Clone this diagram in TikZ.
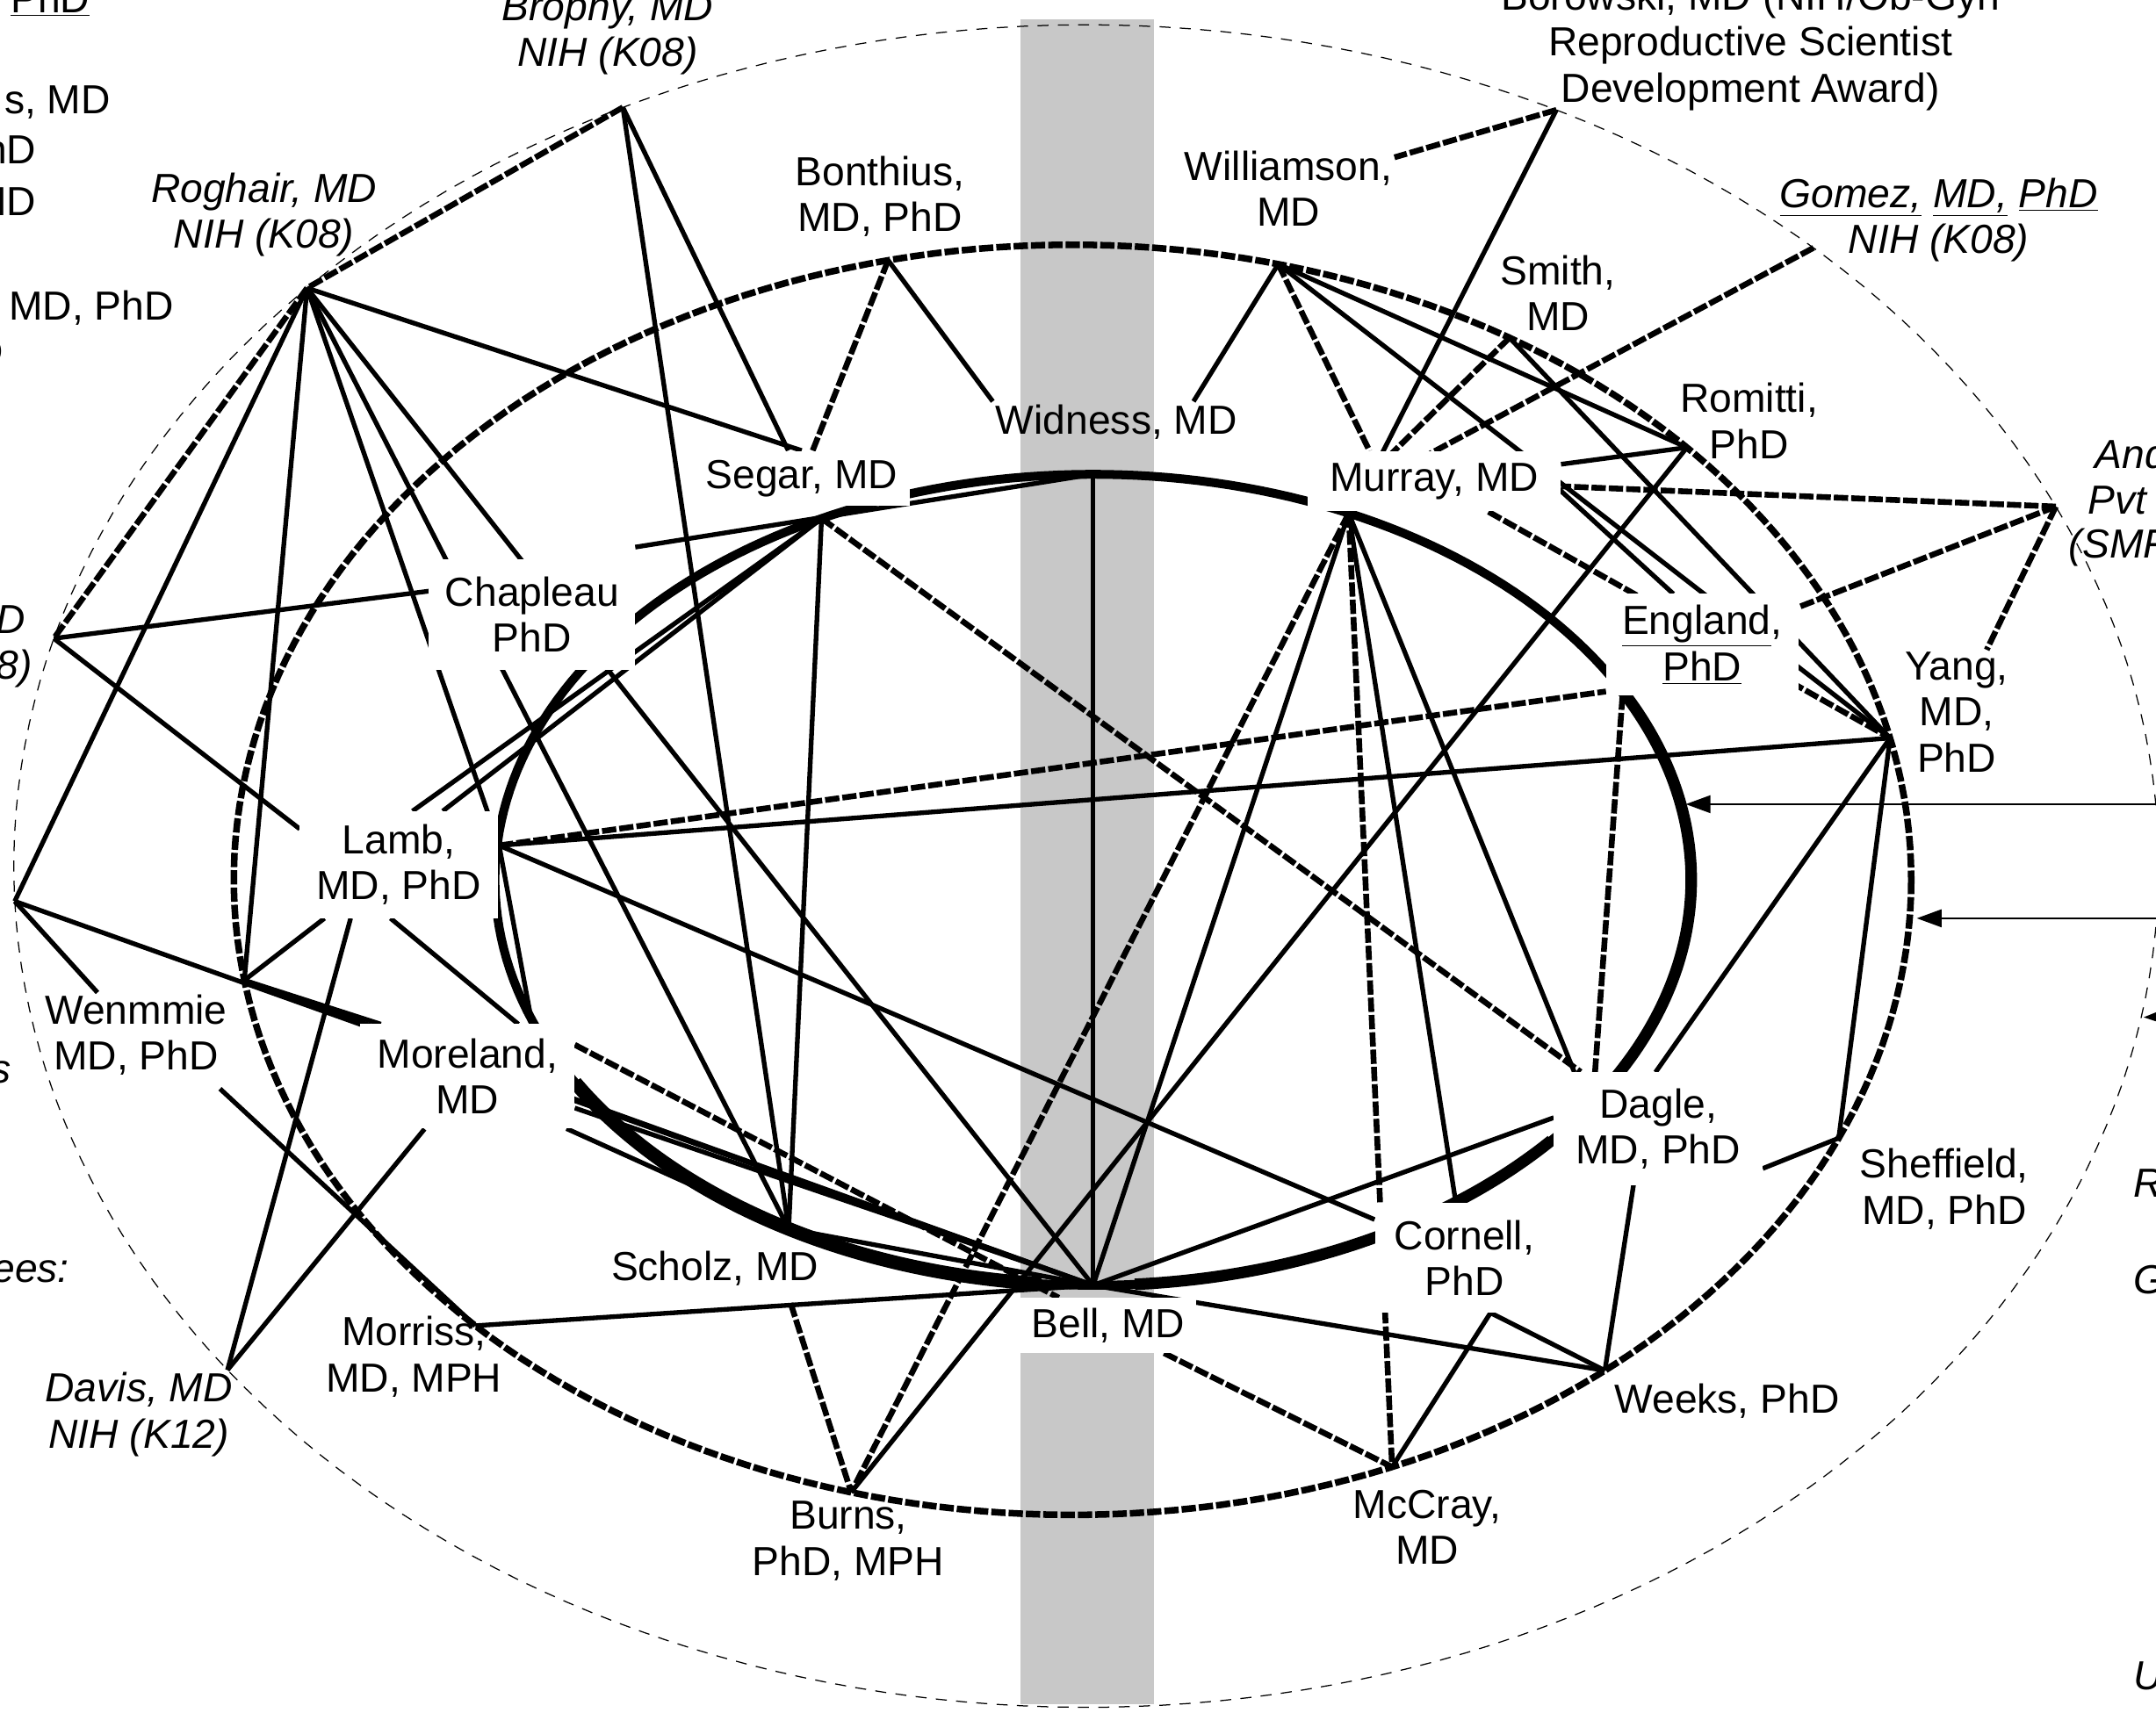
\documentclass[tikz,border=0pt]{standalone}
\usepackage{fontspec}
\setmainfont{Liberation Sans}
\usetikzlibrary{calc,arrows.meta}
\pgfdeclarelayer{back}
\pgfdeclarelayer{mid}
\pgfsetlayers{back,mid,main}
\definecolor{band}{RGB}{200,200,200}
\newcommand{\labfont}{\fontsize{21}{23.8}\selectfont}
\begin{document}
\begin{tikzpicture}[x=0.25mm,y=-0.25mm,
  lab/.style={font=\labfont, align=center, inner sep=1pt},
  itl/.style={font=\labfont\itshape, align=center, inner sep=1pt},
  box/.style={font=\labfont, align=center, fill=white, inner sep=0pt},
  sl/.style={line width=0.85mm},
  dl/.style={line width=1.05mm, dash pattern=on 2.6mm off 0.55mm},
  mdl/.style={line width=1.2mm, dash pattern=on 2.6mm off 0.55mm},
  thin/.style={line width=0.2mm, dash pattern=on 2mm off 1.7mm},
  heavy/.style={line width=1.6mm},
  arr/.style={line width=0.35mm, -{Triangle[length=4.5mm,width=3.2mm]}}]
\useasboundingbox (0,0) rectangle (1568,1251);

% ---------- vertices on the ellipses ----------
% outer ellipse: centre (790,630), radii 780 / 612
\coordinate (Br) at ($(790,630)+(244.4:780 and 612)$);
\coordinate (Ro) at ($(790,630)+(223.4:780 and 612)$);
\coordinate (L1) at ($(790,630)+(195.7:780 and 612)$);
\coordinate (L2) at ($(790,630)+(177.6:780 and 612)$);
\coordinate (Da) at ($(790,630)+(143.2:780 and 612)$);
\coordinate (Bo) at ($(790,630)+(296.0:780 and 612)$);
\coordinate (Go) at ($(790,630)+(312.7:780 and 612)$);
\coordinate (An) at ($(790,630)+(334.7:780 and 612)$);
% middle ellipse: centre (780,640), radii 610 / 462
\coordinate (Bt) at ($(780,640)+(257.3:610 and 462)$);
\coordinate (Wi) at ($(780,640)+(284.2:610 and 462)$);
\coordinate (Sm) at ($(780,640)+(301.4:610 and 462)$);
\coordinate (Rm) at ($(780,640)+(317.1:610 and 462)$);
\coordinate (Ya) at ($(780,640)+(347.1:610 and 462)$);
\coordinate (Sh) at ($(780,640)+(24.0:610 and 462)$);
\coordinate (We) at ($(780,640)+(50.6:610 and 462)$);
\coordinate (Mc) at ($(780,640)+(67.6:610 and 462)$);
\coordinate (Bu) at ($(780,640)+(105.3:610 and 462)$);
\coordinate (Ms) at ($(780,640)+(135.4:610 and 462)$);
\coordinate (Wn) at ($(780,640)+(170.9:610 and 462)$);
% inner ellipse: centre (795,640), radii 435 / 295
\coordinate (Wd) at ($(795,640)+(270:435 and 295)$);
\coordinate (Bl) at ($(795,640)+(90:435 and 295)$);
\coordinate (Sg) at ($(795,640)+(243:435 and 295)$);
\coordinate (Mu) at ($(795,640)+(295.3:435 and 295)$);
\coordinate (Sc) at ($(795,640)+(120.6:435 and 295)$);
\coordinate (Lm) at (363,615);

% ---------- attachment points on label borders ----------
\coordinate (muT)  at (1040,330);
\coordinate (muT2) at (1012,330);
\coordinate (muT3) at (996,328);
\coordinate (muT4) at (1005,330);
\coordinate (muR)  at (1134,356);
\coordinate (enT)  at (1217,432);
\coordinate (enBL) at (1168,503);
\coordinate (enB)  at (1180,506);
\coordinate (dgT)  at (1160,780);
\coordinate (dgTR) at (1204,780);
\coordinate (dgTL) at (1145,780);
\coordinate (dgL)  at (1130,813);
\coordinate (dgB)  at (1188,862);
\coordinate (dgR)  at (1282,850);
\coordinate (coB)  at (1084,955);
\coordinate (chL)  at (312,430);
\coordinate (chR)  at (462,398);
\coordinate (lmL)  at (218,603);
\coordinate (lmT1) at (300,590);
\coordinate (lmT2) at (322,590);
\coordinate (lmB1) at (284,668);
\coordinate (lmB2) at (255,668);
\coordinate (lmB3) at (236,668);
\coordinate (mrTR) at (387,745);
\coordinate (mrT)  at (377,745);
\coordinate (mrTL) at (277,745);
\coordinate (mrR1) at (418,760);
\coordinate (mrR2) at (418,806);
\coordinate (mrBR) at (412,821);
\coordinate (blTL) at (770,944);
\coordinate (scB)  at (575,948);
\coordinate (wnB)  at (160,792);
\coordinate (wdA)  at (722,292);
\coordinate (wdB)  at (868,292);
\coordinate (a1s) at (1620,585);
\coordinate (a1e) at (1226,585);
\coordinate (a2s) at (1620,668);
\coordinate (a2e) at (1394,668);
\coordinate (a3s) at (1620,738);
\coordinate (a3e) at (1559,740);

% ---------- labels ----------
\node[itl] (nBr) at (442,24) {Brophy, MD\\NIH (K08)};
\node[itl] (nRo) at (192,156) {Roghair, MD\\NIH (K08)};
\node[itl] (nDa) at (101,1029) {Davis, MD\\NIH (K12)};
\node[itl] (nGo) at (1410,160) {\underline{Gomez,} \underline{MD,} \underline{PhD}\\NIH (K08)};
\node[lab] (nBo) at (1273,33) {Borowski, MD (NIH/Ob-Gyn\\Reproductive Scientist\\Development Award)};
\node[lab] (nBt) at (640,143) {Bonthius,\\MD, PhD};
\node[lab] (nWi) at (937,137) {Williamson,\\MD};
\node[lab] (nSm) at (1133,213) {Smith,\\MD};
\node[lab] (nRm) at (1272,306) {Romitti,\\PhD};
\node[lab] (nYa) at (1423,518) {Yang,\\MD,\\PhD};
\node[lab] (nSh) at (1414,865) {Sheffield,\\MD, PhD};
\node[lab] (nWe) at (1256,1019) {Weeks, PhD};
\node[lab] (nMc) at (1038,1111) {McCray,\\MD};
\node[lab] (nBu) at (617,1121) {Burns,\\PhD, MPH};
\node[lab] (nMs) at (301,987) {Morriss,\\MD, MPH};
\node[lab] (nWn) at (99,753) {Wenmmie\\MD, PhD};
\node[lab] (nWd) at (812,307) {Widness, MD};
\node[lab] (nSc) at (520,923) {Scholz, MD};
\node[box, minimum width=39.5mm, minimum height=10mm] (nSg) at (583,348) {Segar, MD};
\node[box, minimum width=46mm, minimum height=11mm] (nMu) at (1043,350) {Murray, MD};
\node[box, minimum width=37.5mm, minimum height=20mm] (nCh) at (387,447) {Chapleau\\PhD};
\node[box, minimum width=36mm, minimum height=19.5mm] (nLm) at (290,629) {Lamb,\\MD, PhD};
\node[box, minimum width=39mm, minimum height=19mm] (nMr) at (340,783) {Moreland,\\MD};
\node[box, minimum width=35mm, minimum height=18.5mm] (nEn) at (1238,469) {\underline{England},\\\underline{PhD}};
\node[box, minimum width=38mm, minimum height=20.5mm] (nDg) at (1206,821) {Dagle,\\MD, PhD};
\node[box, minimum width=32.5mm, minimum height=20mm] (nCo) at (1065,915) {Cornell,\\PhD};
\node[box, minimum width=32mm, minimum height=10mm] (nBl) at (806,964) {Bell, MD};
% texts cut by the picture edges
\node[lab, anchor=base east] (cl1) at (67,9) {\underline{PhD}};
\node[lab, anchor=base east] (cl2) at (82,83) {s, MD};
\node[lab, anchor=base east] (cl3) at (28,119) {PhD};
\node[lab, anchor=base east] (cl4) at (28,157) {MD};
\node[lab, anchor=base east] (cl5) at (128,233) {MD, PhD};
\node[lab, anchor=base east] (cl6) at (4,266) {D};
\node[itl, anchor=base east] (cl7) at (20,461) {MD};
\node[itl, anchor=base east] (cl8) at (25,494) {(K08)};
\node[itl, anchor=base east] (cl9) at (10,788) {s};
\node[itl, anchor=base east] (cl10) at (52,933) {ees:};
\node[itl, anchor=base west] (cr1) at (1522,341) {And};
\node[itl, anchor=base west] (cr2) at (1517,374) {Pvt F};
\node[itl, anchor=base west] (cr3) at (1503,406) {(SMF};
\node[itl, anchor=base west] (cr4) at (1550,871) {R};
\node[itl, anchor=base west] (cr5) at (1550,941) {G};
\node[itl, anchor=base west] (cr6) at (1550,1229) {U};

% ---------- background: band and ellipses ----------
\begin{pgfonlayer}{back}
\fill[white] (0,0) rectangle (1568,1251);
\fill[band] (742,14) rectangle (839,1240);
\draw[thin] plot[domain=0:360, samples=240] ({790+780*cos(\x)},{630+612*sin(\x)}) -- cycle;
\draw[mdl] plot[domain=0:360, samples=240] ({780+610*cos(\x)},{640+462*sin(\x)}) -- cycle;
\draw[heavy] plot[domain=0:360, samples=240] ({795+435*cos(\x)},{640+295*sin(\x)}) -- cycle;
\draw[line width=2.5mm] plot[smooth, domain=95:150, samples=40] ({795+435*cos(\x)},{640+295*sin(\x)});
\draw[line width=2.1mm] plot[smooth, domain=-28:32, samples=40] ({795+435*cos(\x)},{640+295*sin(\x)});
\draw[line width=2.1mm] plot[smooth, domain=40:86, samples=40] ({795+435*cos(\x)},{640+295*sin(\x)});
\end{pgfonlayer}

% ---------- connectors ----------
\begin{pgfonlayer}{mid}
% dashed
\draw[dl] (Br) -- (Ro);
\draw[dl] (Ro) -- (L1);
\draw[dl] (Bo) -- (nWi);
\draw[dl] (Go) -- (muT);
\draw[dl] (Sm) -- (muT2);
\draw[dl] (Wi) -- (muT3);
\draw[dl] (Bt) -- (nSg);
\draw[dl] (An) -- (nMu);
\draw[dl] (An) -- (nEn);
\draw[dl] (An) -- (nYa);
\draw[dl] (nMu) -- (Ya);
\draw[dl] (Mu) -- (Bu);
\draw[dl] (Mu) -- (Mc);
\draw[dl] (Sg) -- (nDg);
\draw[dl] (Lm) -- (enBL);
\draw[dl] (mrR1) -- (blTL);
\draw[dl] (enB) -- (dgT);
\draw[dl] (nBl) -- (Mc);
\draw[dl] (scB) -- (Bu);
% solid
\draw[sl] (Br) -- (nSg);
\draw[sl] (Br) -- (Sc);
\draw[sl] (Ro) -- (nSg.north);
\draw[sl] (Ro) -- (L2);
\draw[sl] (Ro) -- (Wn);
\draw[sl] (Ro) -- (Lm);
\draw[sl] (Ro) -- (Sc);
\draw[sl] (Ro) -- (Bl);
\draw[sl] (L1) -- (chL);
\draw[sl] (L1) -- (lmL);
\draw[sl] (chR) -- (Wd);
\draw[sl] (Bt) -- (wdA);
\draw[sl] (Wi) -- (wdB);
\draw[sl] (Wi) -- (Rm);
\draw[sl] (Wi) -- (Ya);
\draw[sl] (Bo) -- (muT4);
\draw[sl] (Sm) -- (Ya);
\draw[sl] (nMu) -- (Rm);
\draw[sl] (muR) -- (enT);
\draw[sl] (Ya) -- (dgTR);
\draw[sl] (Ya) -- (Sh);
\draw[sl] (Lm) -- (Ya);
\draw[sl] (Lm) -- (nCo);
\draw[sl] (Lm) -- (mrTR);
\draw[sl] (lmB1) -- (mrT);
\draw[sl] (lmB2) -- (Da);
\draw[sl] (lmB3) -- (Wn);
\draw[sl] (Sg) -- (lmT1);
\draw[sl] (Sg) -- (lmT2);
\draw[sl] (L2) -- (nWn);
\draw[sl] (L2) -- (Bl);
\draw[sl] (Wn) -- (Bl);
\draw[sl] (Wn) -- (mrTL);
\draw[sl] (wnB) -- (Ms);
\draw[sl] (nMr) -- (Da);
\draw[sl] (mrBR) -- (Sc);
\draw[sl] (mrR2) -- (Bl);
\draw[sl] (Ms) -- (Bl);
\draw[sl] (Sc) -- (Bl);
\draw[sl] (Sg) -- (Sc);
\draw[sl] (Wd) -- (Bl);
\draw[sl] (Mu) -- (Bl);
\draw[sl] (Mu) -- (nCo);
\draw[sl] (Mu) -- (dgTL);
\draw[sl] (Rm) -- (Bu);
\draw[sl] (Bl) -- (dgL);
\draw[sl] (Bl) -- (We);
\draw[sl] (coB) -- (We);
\draw[sl] (coB) -- (Mc);
\draw[sl] (dgB) -- (We);
\draw[sl] (dgR) -- (Sh);
% arrows from the right
\draw[arr] (a1s) -- (a1e);
\draw[arr] (a2s) -- (a2e);
\draw[arr] (a3s) -- (a3e);
\end{pgfonlayer}
\end{tikzpicture}
\end{document}
